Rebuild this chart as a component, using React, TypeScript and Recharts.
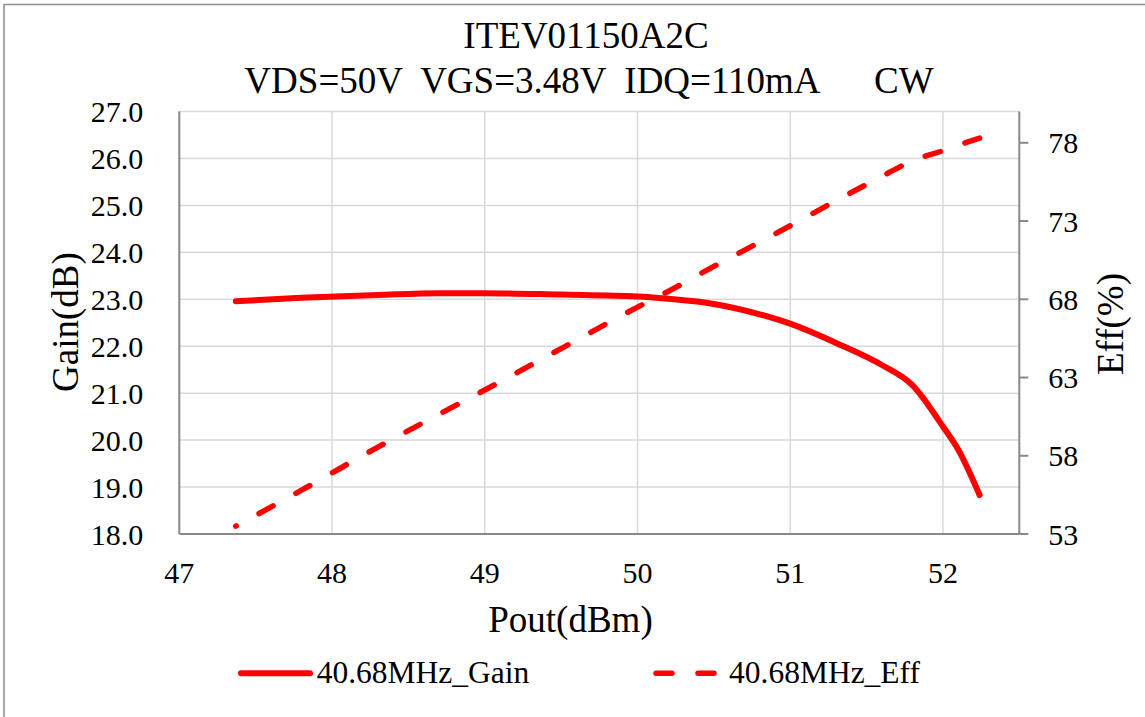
import React from 'react'
import { LineChart, Line, XAxis, YAxis, CartesianGrid } from 'recharts'

// Pout (dBm) sample points
const pout = [47.37, 47.8, 48.3, 48.7, 49.0, 49.5, 50.0, 50.2, 50.5, 50.8, 51.0, 51.3, 51.6, 51.8, 52.0, 52.1, 52.24]
const gain = [22.96, 23.03, 23.09, 23.13, 23.13, 23.1, 23.06, 23.01, 22.9, 22.68, 22.48, 22.07, 21.6, 21.17, 20.29, 19.8, 18.83]
const eff = [53.5, 55.8, 58.55, 60.65, 62.2, 64.85, 67.5, 68.5, 70.1, 71.65, 72.7, 74.3, 75.85, 76.85, 77.5, 77.85, 78.3]

const xTicks = [47, 48, 49, 50, 51, 52]
const gainTicks = [18, 19, 20, 21, 22, 23, 24, 25, 26, 27]
const effTicks = [53, 58, 63, 68, 73, 78]

const data = pout.map((p, i) => ({ pout: p, gain: gain[i], eff: eff[i] }))

const FONT = '"Liberation Serif", "Times New Roman", serif'
const RED = '#ff0000'
const AXIS = '#898989'
const GRID = '#d9d9d9'

export default function App() {
  const tick = { fill: '#000', fontSize: 30, fontFamily: FONT }
  return (
    <div style={{ position: 'absolute', left: 0, top: 0, width: 1145, height: 717, background: '#fff', fontFamily: FONT }}>
      <LineChart width={1145} height={717} data={data} margin={{ top: 111.5, right: 0, bottom: 143, left: 0 }}>
        <CartesianGrid stroke={GRID} strokeWidth={1.5} horizontalValues={gainTicks} verticalValues={xTicks} yAxisId="left" />
        <XAxis
          dataKey="pout"
          type="number"
          domain={[47, 52.5]}
          ticks={xTicks}
          height={40}
          tick={tick}
          tickLine={false}
          tickSize={0}
          tickMargin={28}
          stroke={AXIS}
          strokeWidth={2}
          allowDataOverflow
        />
        <YAxis
          yAxisId="left"
          domain={[18, 27]}
          ticks={gainTicks}
          width={179.3}
          tick={tick}
          tickLine={false}
          tickSize={0}
          tickMargin={36}
          tickFormatter={(v: number) => v.toFixed(1)}
          stroke={AXIS}
          strokeWidth={2}
        />
        <YAxis
          yAxisId="right"
          orientation="right"
          domain={[53, 80]}
          ticks={effTicks}
          width={125.7}
          tick={tick}
          tickSize={9}
          tickMargin={20}
          stroke={AXIS}
          strokeWidth={2}
        />
        <Line
          yAxisId="left"
          dataKey="gain"
          type="monotone"
          stroke={RED}
          strokeWidth={6}
          strokeLinecap="round"
          dot={false}
          isAnimationActive={false}
        />
        <Line
          yAxisId="right"
          dataKey="eff"
          type="monotone"
          stroke={RED}
          strokeWidth={5.5}
          strokeLinecap="round"
          strokeDasharray="16 26"
          strokeDashoffset={15.5}
          dot={false}
          isAnimationActive={false}
        />
      </LineChart>
      <svg width={1145} height={717} style={{ position: 'absolute', left: 0, top: 0, pointerEvents: 'none' }}>
        <polyline points="4,717 4,4.5 1145,4.5" fill="none" stroke="#8c8c8c" strokeWidth={1.5} />
        <g fontFamily={FONT} fill="#000">
          <text x={586} y={48.3} fontSize={37} textAnchor="middle">ITEV01150A2C</text>
          <text x={589} y={93.3} fontSize={37} textAnchor="middle" style={{ whiteSpace: 'pre' }}>
            {'VDS=50V  VGS=3.48V  IDQ=110mA      CW'}
          </text>
          <text x={570.5} y={631.7} fontSize={37} textAnchor="middle">Pout(dBm)</text>
          <text x={78} y={322} fontSize={37} textAnchor="middle" transform="rotate(-90 78 322)">Gain(dB)</text>
          <text x={1123} y={324} fontSize={37} textAnchor="middle" transform="rotate(-90 1123 324)">Eff(%)</text>
          <line x1={241} y1={673.3} x2={310} y2={673.3} stroke={RED} strokeWidth={6} strokeLinecap="round" />
          <text x={316.7} y={682.7} fontSize={31.5}>40.68MHz_Gain</text>
          <line x1={656} y1={673.3} x2={714} y2={673.3} stroke={RED} strokeWidth={5.5} strokeLinecap="round" strokeDasharray="16 26" />
          <text x={729} y={682.7} fontSize={31.5}>40.68MHz_Eff</text>
        </g>
      </svg>
    </div>
  )
}
